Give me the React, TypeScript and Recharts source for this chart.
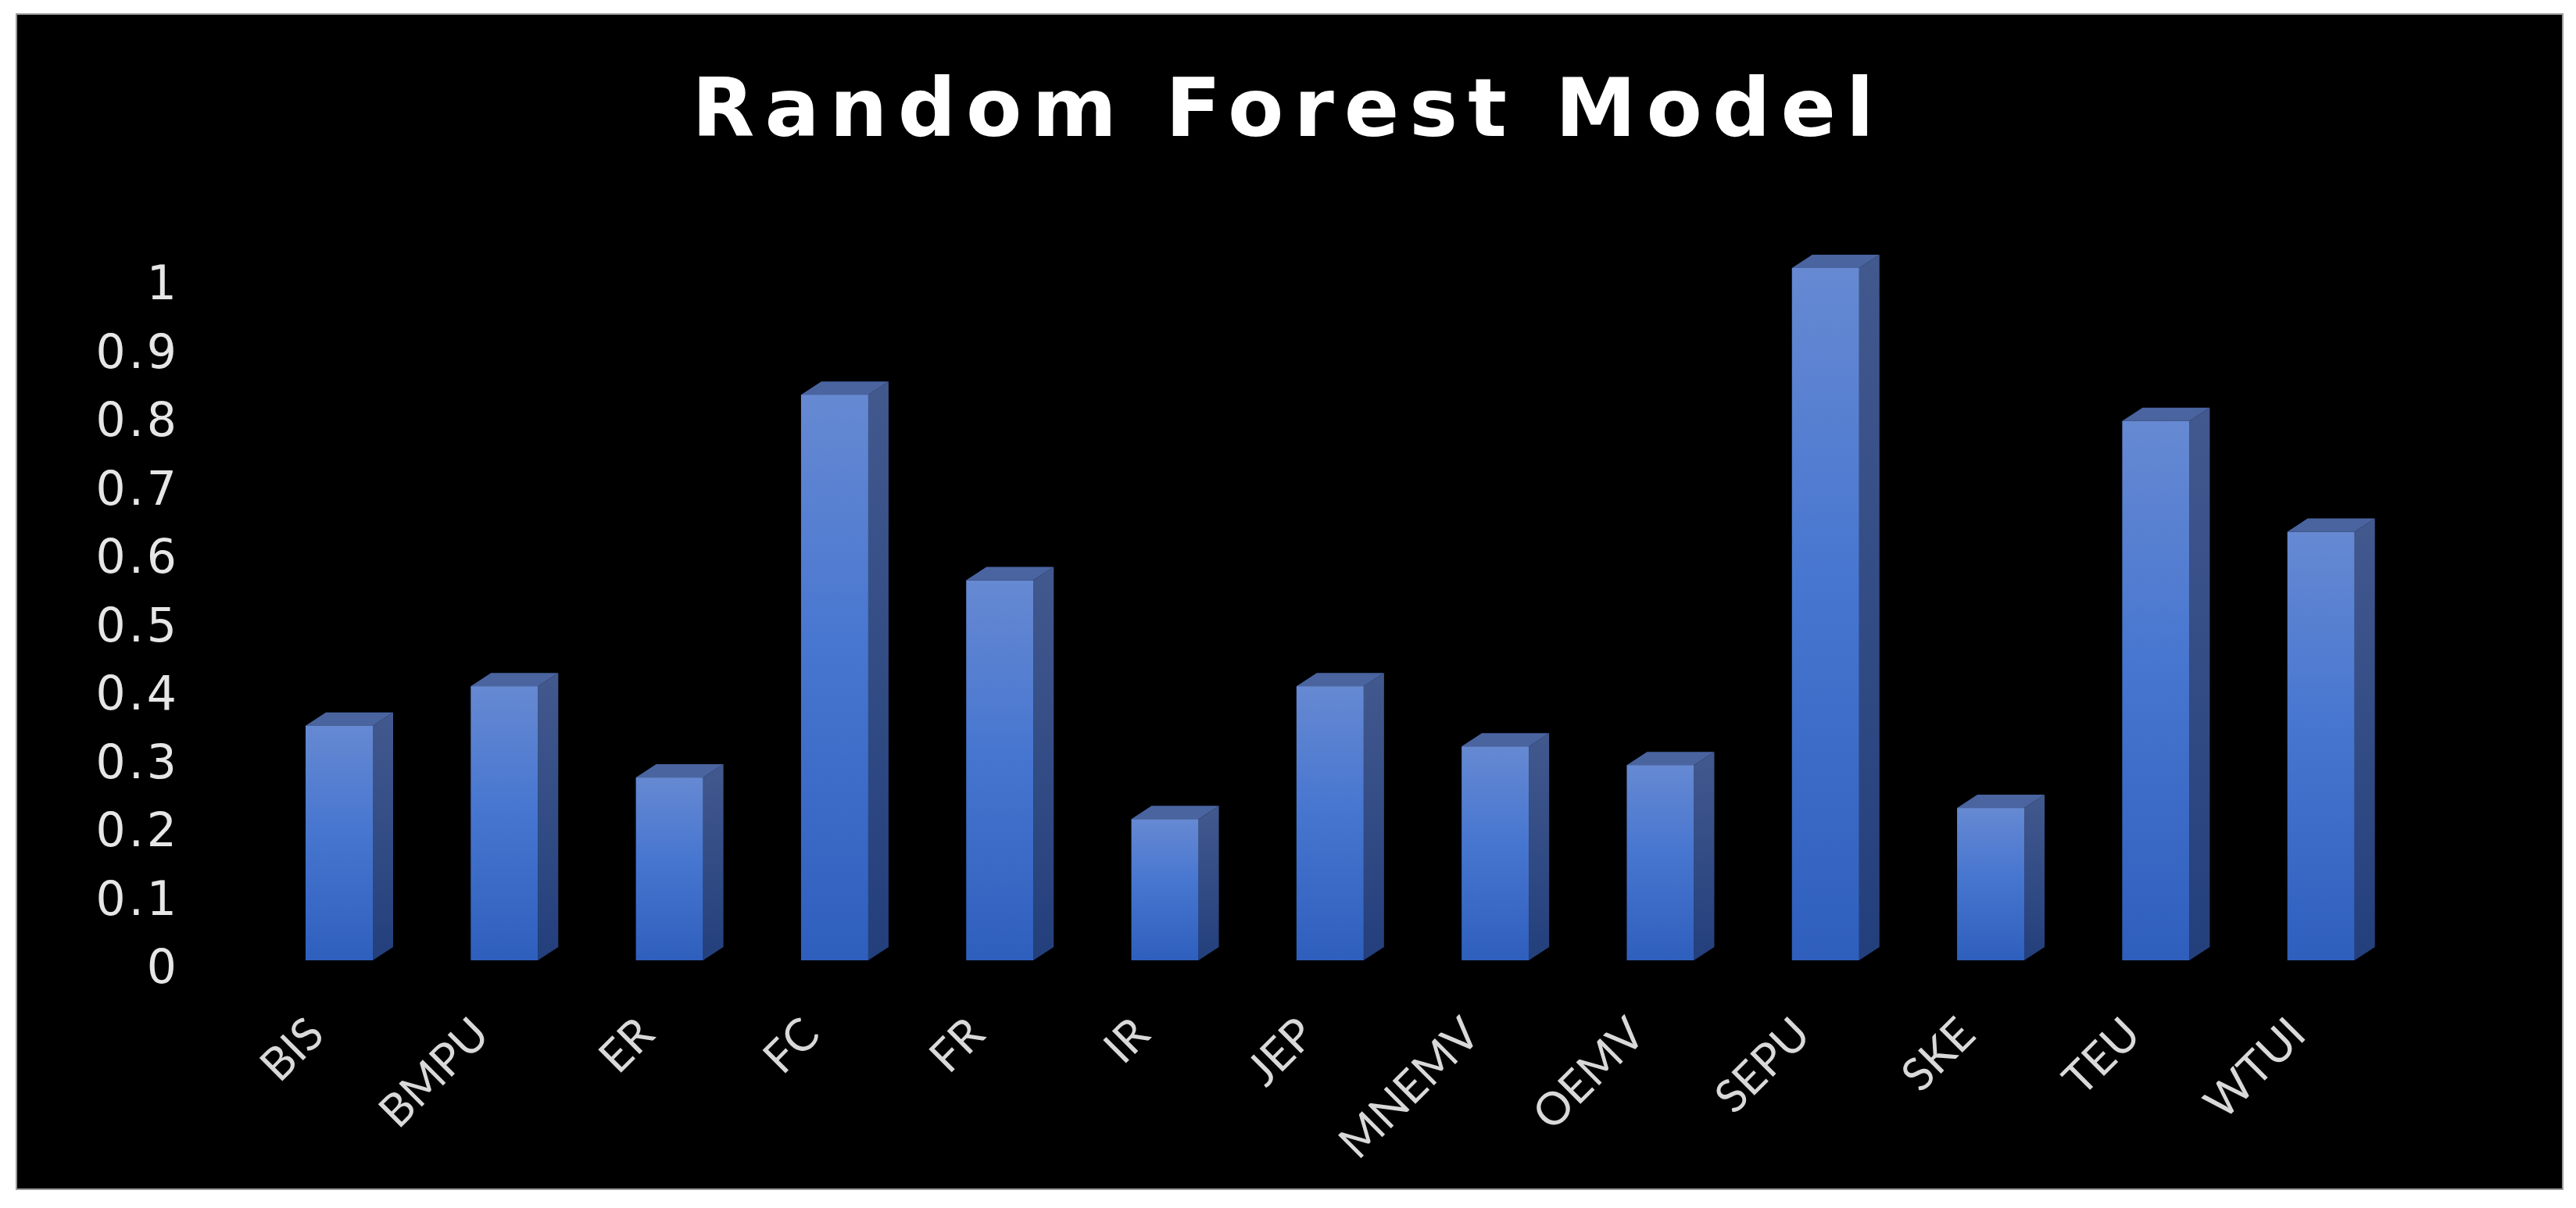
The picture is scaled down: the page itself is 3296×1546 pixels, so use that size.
import React from 'react';
import { BarChart, Bar, XAxis, YAxis } from 'recharts';

const categories = ['BIS', 'BMPU', 'ER', 'FC', 'FR', 'IR', 'JEP', 'MNEMV', 'OEMV', 'SEPU', 'SKE', 'TEU', 'WTUI'];
const scores = [0.339, 0.396, 0.264, 0.817, 0.549, 0.204, 0.396, 0.309, 0.282, 1.0, 0.22, 0.779, 0.619];
const yTicks = [0, 0.1, 0.2, 0.3, 0.4, 0.5, 0.6, 0.7, 0.8, 0.9, 1];

const data = categories.map((name, i) => ({ name, score: scores[i] }));

// depth of the fake 3D extrusion (to the back-right)
const DX = 26;
const DY = 17;

const Column3D = (props: any) => {
  const { x, y, width, height, index } = props;
  const fid = `front-${index}`;
  const sid = `side-${index}`;
  const bottom = y + height;
  const side = `${x + width},${bottom} ${x + width + DX},${bottom - DY} ${x + width + DX},${y - DY} ${x + width},${y}`;
  const top = `${x},${y} ${x + DX},${y - DY} ${x + width + DX},${y - DY} ${x + width},${y}`;
  return (
    <g>
      <defs>
        <linearGradient id={fid} x1="0" y1="0" x2="0" y2="1">
          <stop offset="0%" stopColor="#6689d2" />
          <stop offset="45%" stopColor="#4776d0" />
          <stop offset="100%" stopColor="#2f5fbd" />
        </linearGradient>
        <linearGradient id={sid} x1="0" y1="0" x2="0" y2="1">
          <stop offset="0%" stopColor="#42598e" />
          <stop offset="100%" stopColor="#233f7c" />
        </linearGradient>
      </defs>
      <polygon points={side} fill={`url(#${sid})`} />
      <polygon points={top} fill="#4a64a0" />
      <rect x={x} y={y} width={width} height={height} fill={`url(#${fid})`} />
    </g>
  );
};

const YTick = (props: any) => {
  const { y, payload } = props;
  // labels sit on the back wall, a little below the front face scale
  const shift = 8 + 11 * payload.value;
  return (
    <text
      x={230}
      y={y + shift}
      textAnchor="end"
      dominantBaseline="central"
      fill="#e6e6e6"
      fontFamily="DejaVu Sans"
      fontSize={60}
      letterSpacing={4}
    >
      {String(payload.value)}
    </text>
  );
};

const XTick = (props: any) => {
  const { x, y, payload } = props;
  const ax = x - 16;
  const ay = y + 90;
  return (
    <text
      x={ax}
      y={ay}
      textAnchor="end"
      transform={`rotate(-45, ${ax}, ${ay})`}
      fill="#d9d9d9"
      fontFamily="Lato"
      fontSize={58}
    >
      {payload.value}
    </text>
  );
};

export default function App() {
  return (
    <div style={{ position: 'absolute', left: 0, top: 0, width: 3296, height: 1546, background: '#ffffff' }}>
      <div
        style={{
          position: 'absolute',
          left: 20,
          top: 17,
          width: 3260,
          height: 1506,
          background: '#000000',
          border: '2px solid #9a9a9a',
          boxSizing: 'border-box',
        }}
      />
      <div
        style={{
          position: 'absolute',
          left: 0,
          top: 86,
          width: 3296,
          textAlign: 'center',
          color: '#ffffff',
          fontFamily: 'DejaVu Sans',
          fontWeight: 'bold',
          fontSize: 104,
          lineHeight: '104px',
          letterSpacing: 13,
        }}
      >
        Random Forest Model
      </div>
      <div style={{ position: 'absolute', left: 0, top: 0 }}>
        <BarChart
          width={3296}
          height={1546}
          data={data}
          margin={{ top: 343, right: 221, bottom: 117, left: 78 }}
          barSize={86}
        >
          <XAxis
            dataKey="name"
            height={200}
            axisLine={false}
            tickLine={false}
            interval={0}
            tick={<XTick />}
          />
          <YAxis
            width={250}
            domain={[0, 1]}
            ticks={yTicks}
            axisLine={false}
            tickLine={false}
            tick={<YTick />}
          />
          <Bar dataKey="score" shape={<Column3D />} isAnimationActive={false} />
        </BarChart>
      </div>
    </div>
  );
}
